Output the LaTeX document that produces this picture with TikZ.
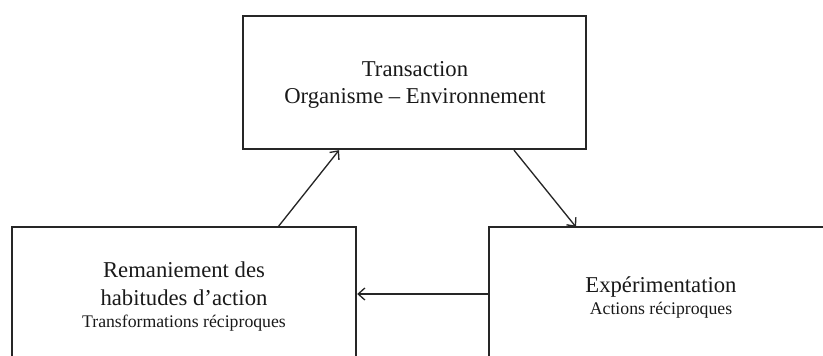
\documentclass[tikz,border=0pt]{standalone}
\usepackage{fontspec}
\setmainfont{Liberation Serif}
\usetikzlibrary{arrows.meta}
\begin{document}
\begin{tikzpicture}[x=0.75pt,y=-0.75pt,
  box/.style={draw=black!85, line width=1.4pt, rectangle, inner sep=0pt, outer sep=0pt, anchor=north west},
  conn/.style={draw=black!85, line width=1pt, -{Straight Barb[length=5pt,width=9pt]}},
  bigtxt/.style={font=\fontsize{17}{20}\selectfont, anchor=base, inner sep=0pt, text=black!90},
  smalltxt/.style={font=\fontsize{13.3}{16}\selectfont, anchor=base, inner sep=0pt, text=black!90}]
\useasboundingbox (0,0) rectangle (823,356);
\clip (0,0) rectangle (823,356);
\node[box, minimum width=257.25pt, minimum height=99.75pt] (top) at (243,16) {};
\node[box, minimum width=258pt, minimum height=150pt] (left) at (12,227) {};
\node[box, minimum width=310pt, minimum height=150pt] (right) at (489,227) {};
\node[bigtxt] (t1) at (415,77) {Transaction};
\node[bigtxt] (t2) at (415,104) {Organisme – Environnement};
\node[bigtxt] (l1) at (184,277) {Remaniement des};
\node[bigtxt] (l2) at (184,305) {habitudes d’action};
\node[smalltxt] (l3) at (184,327) {Transformations réciproques};
\node[bigtxt] (r1) at (661,292) {Expérimentation};
\node[smalltxt] (r2) at (661,314) {Actions réciproques};
\draw[conn] ([xshift=199.5pt]left.north west) -- ([xshift=72pt,yshift=-0.9pt]top.south west);
\draw[conn] ([xshift=203.25pt,yshift=-0.9pt]top.south west) -- ([xshift=65.25pt]right.north west);
\draw[conn] ([yshift=-50.25pt]right.north west) -- ([yshift=-50.25pt,xshift=0.9pt]left.north east);
\end{tikzpicture}
\end{document}
